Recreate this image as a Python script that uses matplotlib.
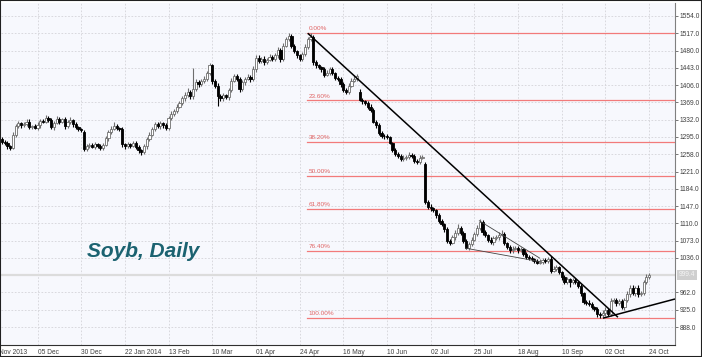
import matplotlib
matplotlib.use("Agg")
import matplotlib.pyplot as plt
import numpy as np
from matplotlib.patches import Rectangle

plt.rcParams['font.family'] = ['Liberation Sans', 'DejaVu Sans']

# daily OHLC, Soybeans, Nov 2013 - 24 Oct 2014
opens = [1290,1285,1282,1275,1272,1300,1318,1325,1320,1322,
         1328,1316,1318,1314,1320,1330,1328,1336,1332,1316,
         1325,1334,1328,1333,1318,1326,1331,1322,1316,1312,
         1305,1270,1275,1278,1274,1280,1276,1272,1278,1292,
         1305,1312,1318,1314,1312,1280,1275,1280,1276,1282,
         1274,1266,1262,1275,1290,1300,1312,1322,1318,1324,
         1320,1314,1335,1345,1350,1360,1368,1378,1385,1392,
         1382,1398,1412,1408,1414,1420,1432,1448,1415,1405,
         1382,1378,1384,1380,1395,1415,1425,1420,1398,1412,
         1420,1424,1418,1440,1465,1458,1462,1455,1460,1466,
         1462,1470,1482,1462,1490,1505,1512,1490,1478,1470,
         1462,1472,1488,1505,1510,1455,1448,1444,1440,1428,
         1432,1440,1432,1422,1418,1408,1396,1392,1405,1415,
         1420,1392,1375,1372,1368,1360,1352,1328,1320,1304,
         1298,1296,1294,1282,1268,1258,1255,1248,1250,1252,
         1256,1254,1244,1242,1250,1238,1155,1146,1142,1138,
         1128,1116,1108,1098,1072,1068,1080,1090,1100,1090,
         1072,1058,1065,1075,1088,1100,1112,1092,1085,1075,
         1070,1078,1080,1086,1088,1068,1060,1052,1056,1058,
         1052,1054,1045,1038,1036,1033,1030,1026,1028,1032,
         1030,1034,1008,1012,1016,1005,995,985,990,985,
         988,984,976,960,942,940,938,930,926,915,
         914,918,925,916,944,946,940,944,930,945,
         958,972,960,972,958,960,985,995]
closes = [1285,1282,1275,1272,1300,1318,1325,1320,1322,1328,
          1316,1318,1314,1320,1330,1328,1336,1332,1316,1325,
          1334,1328,1333,1318,1326,1331,1322,1316,1312,1310,
          1270,1275,1278,1274,1280,1276,1272,1278,1292,1305,
          1312,1318,1314,1312,1280,1275,1280,1276,1282,1274,
          1266,1262,1275,1290,1300,1312,1322,1318,1324,1320,
          1314,1335,1345,1350,1360,1368,1378,1385,1392,1382,
          1398,1412,1408,1414,1420,1432,1448,1415,1405,1382,
          1378,1384,1380,1395,1415,1425,1420,1398,1412,1420,
          1424,1418,1440,1465,1458,1462,1455,1460,1466,1462,
          1470,1482,1462,1490,1505,1512,1490,1478,1470,1462,
          1472,1488,1505,1510,1455,1448,1444,1440,1428,1432,
          1440,1432,1422,1418,1408,1396,1392,1405,1415,1420,
          1425,1375,1372,1368,1360,1352,1328,1320,1304,1298,
          1296,1294,1282,1268,1258,1255,1248,1250,1252,1256,
          1254,1244,1242,1250,1252,1155,1146,1142,1138,1128,
          1116,1108,1098,1072,1068,1080,1090,1100,1090,1072,
          1058,1065,1075,1088,1100,1112,1092,1085,1075,1070,
          1078,1080,1086,1088,1068,1060,1052,1056,1058,1052,
          1054,1045,1038,1036,1033,1030,1026,1028,1032,1030,
          1034,1008,1012,1016,1005,995,985,990,985,988,
          984,976,960,942,940,938,930,926,915,914,
          918,925,916,944,946,940,944,930,945,958,
          972,960,972,958,960,985,995,999.4]
# wick lengths above / below the body
upper_wick = [4,3,5,3,6,4,5,3,4,6, 5,3,4,6,4,3,7,4,3,5, 6,4,3,4,5,6,3,4,3,2,
              5,4,3,5,4,3,4,3,5,4, 6,8,4,3,5,3,4,3,5,4, 3,4,5,4,6,5,6,4,5,3,
              4,5,6,4,5,4,5,6,8,4, 45,8,5,4,6,5,5,4,3,5, 4,6,3,5,6,5,4,3,5,4,
              5,4,6,5,5,4,6,5,7,4, 5,6,4,6,5,6,4,5,4,3, 5,6,5,7,4,5,4,3,4,6,
              5,4,3,4,5,4,3,5,6,8, 4,5,4,3,4,5,4,3,4,3, 4,5,4,3,4,5,4,6,5,7,
              5,4,3,6,5,4,5,6,4,3, 5,4,3,5,4,6,5,8,4,3, 5,6,5,4,6,8,5,4,3,5,
              4,5,6,7,4,3,4,5,4,3, 5,4,3,4,5,3,4,5,4,3, 4,5,6,4,3,4,5,6,4,5,
              4,3,5,4,3,5,4,3,4,5, 6,5,4,6,5,4,3,5,6,7, 5,6,4,7,5,4,6,4]
lower_wick = [5,4,6,4,3,5,4,6,4,3, 4,5,3,4,5,4,3,5,4,6, 3,5,4,6,4,3,5,4,5,4,
              6,5,4,3,5,4,6,4,3,5, 4,3,5,4,6,5,4,5,3,4, 5,6,4,5,3,4,5,4,6,5,
              5,4,3,5,4,3,4,5,4,6, 5,4,6,4,3,5,4,6,5,20, 6,5,4,6,4,3,5,7,4,5,
              4,5,4,6,5,4,5,4,3,5, 4,5,6,4,3,4,5,4,6,5, 4,3,5,4,5,6,4,5,4,3,
              4,5,6,4,5,4,6,5,4,3, 5,4,6,4,5,4,3,5,4,6, 5,4,3,5,4,6,5,4,5,4,
              4,5,6,4,3,4,6,5,4,6, 5,4,6,5,4,3,5,4,6,5, 4,5,4,3,5,4,6,5,4,5,
              6,4,5,3,5,4,6,5,4,5, 4,6,5,4,3,5,4,3,5,4, 5,4,3,5,4,6,5,4,12,5,
              4,5,6,4,5,4,3,4,5,7, 5,6,4,5,4,6,5,4,5,4, 5,4,6,5,4,3,5,4]

date_labels = ["Nov 2013", "05 Dec", "30 Dec", "22 Jan 2014", "13 Feb", "10 Mar",
               "01 Apr", "24 Apr", "16 May", "10 Jun", "02 Jul", "25 Jul",
               "18 Aug", "10 Sep", "02 Oct", "24 Oct"]
date_index = [-3, 13, 29, 45, 61, 77, 93, 109, 125, 141, 157, 173, 189, 205, 221, 237]

price_ticks = [888, 925, 962, 1036, 1073, 1110, 1147, 1184, 1221, 1258, 1295,
               1332, 1369, 1406, 1443, 1480, 1517, 1554]
grid_prices = [888, 925, 962, 999, 1036, 1073, 1110, 1147, 1184, 1221, 1258,
               1295, 1332, 1369, 1406, 1443, 1480, 1517, 1554]

fib_high = 1517
fib_low = 907
fib_start = 112
fib_ratios = [0.0, 0.236, 0.382, 0.5, 0.618, 0.764, 1.0]
fib_names = ["0.00%", "23.60%", "38.20%", "50.00%", "61.80%", "76.40%", "100.00%"]

# trend lines (bar index, price)
main_trend = [(112, 1517), (225.6, 909)]
support_line = [(220.1, 907), (246.5, 948)]
wedge_top = [(174.7, 1116), (197.1, 1035)]
wedge_bottom = [(169.6, 1057), (197.1, 1028)]

last_price = 999.4

fig = plt.figure(figsize=(7.02, 3.57), dpi=100)
ax = fig.add_axes([1/702, 12/357, 674/702, 342/357])
ax.set_facecolor('#f7f8fd')
ax.set_xlim(-0.37, 246.5)
ax.set_ylim(849.5, 1581.8)

for p in grid_prices:
    ax.axhline(p, color='#d4d4d8', lw=0.6, ls=(0, (2, 2)), zorder=0)
for i in date_index:
    ax.axvline(i, color='#d4d4d8', lw=0.6, ls=(0, (2, 2)), zorder=0)

ax.axhline(last_price, color='#dcdcdc', lw=1.6, zorder=1)

o = np.array(opens, float)
c = np.array(closes, float)
x = np.arange(len(c))
hi = np.maximum(o, c) + np.array(upper_wick)
lo = np.minimum(o, c) - np.array(lower_wick)
up = c >= o

ax.vlines(x[up], lo[up], hi[up], color='#6e6e6e', lw=0.8, zorder=2)
ax.vlines(x[~up], lo[~up], hi[~up], color='#000000', lw=0.8, zorder=2)
body = np.maximum(np.abs(c - o), 1.5)
ax.bar(x[up], body[up], bottom=np.minimum(o, c)[up], width=0.8,
       color='white', edgecolor='#6e6e6e', lw=0.6, zorder=3)
ax.bar(x[~up], body[~up], bottom=np.minimum(o, c)[~up], width=0.8,
       color='black', edgecolor='black', lw=0.6, zorder=3)

# fibonacci retracement
for r, name in zip(fib_ratios, fib_names):
    lvl = fib_high - r * (fib_high - fib_low)
    ax.plot([fib_start - 0.2, 246.5], [lvl, lvl], color='#f27a7a', lw=0.9, zorder=1)
    ax.text(fib_start + 0.2, lvl + 4, name, color='#e06464', fontsize=4.6,
            ha='left', va='bottom', zorder=4)

for seg, lw, col in [(main_trend, 1.1, 'black'), (support_line, 1.1, 'black'),
                     (wedge_top, 0.6, '#444444'), (wedge_bottom, 0.6, '#444444')]:
    ax.plot([seg[0][0], seg[1][0]], [seg[0][1], seg[1][1]], color=col, lw=lw,
            zorder=5, solid_capstyle='butt')

ax.text(31, 1050, "Soyb, Daily", fontsize=15, fontweight='bold', style='italic',
        color='#1b6270', ha='left', va='center')

ax.yaxis.tick_right()
ax.set_yticks(price_ticks)
ax.set_yticklabels(["%.1f" % p for p in price_ticks])
ax.tick_params(axis='y', labelsize=4.8, labelcolor='#404040', length=2,
               color='#606060', pad=1.5, width=0.6)
ax.set_xticks([])
for sp in ['top', 'left']:
    ax.spines[sp].set_visible(False)
ax.spines['right'].set_color('#808080')
ax.spines['bottom'].set_color('#303030')
ax.spines['right'].set_linewidth(0.8)
ax.spines['bottom'].set_linewidth(0.8)

for lab, i in zip(date_labels, date_index):
    pos = max(i, -1.2)
    ax.text(pos, -0.012, lab, transform=ax.get_xaxis_transform(), fontsize=4.8,
            color='#404040', ha='left', va='top', clip_on=False)

ax.text(1.005, (last_price - 849.5) / (1581.8 - 849.5), "%.1f" % last_price,
        transform=ax.transAxes, fontsize=4.8, color='#f4f4f4', ha='left', va='center',
        bbox=dict(boxstyle='square,pad=0.25', fc='#cfcfcf', ec='none'), clip_on=False)

fig.patches.append(Rectangle((0, 0), 1, 1, transform=fig.transFigure, fill=False,
                             ec='#202020', lw=1.5))

fig.savefig("out.png", dpi=100)
